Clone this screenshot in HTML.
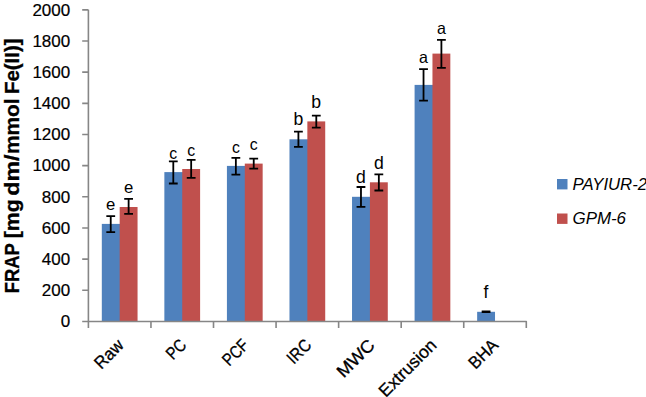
<!DOCTYPE html><html><head><meta charset="utf-8"><style>html,body{margin:0;padding:0;background:#fff;}svg{display:block;}text{font-family:"Liberation Sans",sans-serif;fill:#000;}.xl{stroke:#000;stroke-width:0.3px;}.yl{stroke:#000;stroke-width:0.2px;}.tt{stroke:#000;stroke-width:0.3px;}</style></head><body>
<svg width="646" height="397" viewBox="0 0 646 397">
<rect width="646" height="397" fill="#fff"/>
<rect x="101.81" y="223.90" width="18.87" height="97.55" fill="#4F81BD"/>
<rect x="119.68" y="207.00" width="17.87" height="114.45" fill="#C0504D"/>
<rect x="164.36" y="172.10" width="18.87" height="149.35" fill="#4F81BD"/>
<rect x="182.24" y="169.00" width="17.87" height="152.45" fill="#C0504D"/>
<rect x="226.92" y="165.90" width="18.87" height="155.55" fill="#4F81BD"/>
<rect x="244.79" y="163.60" width="17.87" height="157.85" fill="#C0504D"/>
<rect x="289.48" y="139.30" width="18.87" height="182.15" fill="#4F81BD"/>
<rect x="307.35" y="121.40" width="17.87" height="200.05" fill="#C0504D"/>
<rect x="352.03" y="196.80" width="18.87" height="124.65" fill="#4F81BD"/>
<rect x="369.91" y="182.30" width="17.87" height="139.15" fill="#C0504D"/>
<rect x="414.59" y="84.90" width="18.87" height="236.55" fill="#4F81BD"/>
<rect x="432.46" y="53.60" width="17.87" height="267.85" fill="#C0504D"/>
<rect x="477.15" y="311.80" width="17.87" height="9.65" fill="#4F81BD"/>
<path d="M88.4 9.85V321.45H526.3V328 M82.2 321.45H88.4M82.2 290.29H88.4M82.2 259.13H88.4M82.2 227.97H88.4M82.2 196.81H88.4M82.2 165.65H88.4M82.2 134.49H88.4M82.2 103.33H88.4M82.2 72.17H88.4M82.2 41.01H88.4M82.2 9.85H88.4" fill="none" stroke="#868686" stroke-width="1.6" stroke-linejoin="round"/>
<path d="M88.40 321.45V328M150.96 321.45V328M213.51 321.45V328M276.07 321.45V328M338.63 321.45V328M401.19 321.45V328M463.74 321.45V328" fill="none" stroke="#868686" stroke-width="1.6"/>
<path d="M110.74 216.10V232.10M106.34 216.10H115.14M106.34 232.10H115.14M128.62 198.80V213.90M124.22 198.80H133.02M124.22 213.90H133.02M173.30 161.40V183.50M168.90 161.40H177.70M168.90 183.50H177.70M191.17 159.90V177.80M186.77 159.90H195.57M186.77 177.80H195.57M235.86 157.90V174.70M231.46 157.90H240.26M231.46 174.70H240.26M253.73 158.60V168.60M249.33 158.60H258.13M249.33 168.60H258.13M298.41 131.70V146.80M294.01 131.70H302.81M294.01 146.80H302.81M316.29 115.70V127.70M311.89 115.70H320.69M311.89 127.70H320.69M360.97 187.00V206.90M356.57 187.00H365.37M356.57 206.90H365.37M378.84 174.40V190.50M374.44 174.40H383.24M374.44 190.50H383.24M423.53 69.10V100.60M419.13 69.10H427.93M419.13 100.60H427.93M441.40 39.80V67.80M437.00 39.80H445.80M437.00 67.80H445.80M486.08 311.50V312.10M481.68 311.50H490.48M481.68 312.10H490.48" fill="none" stroke="#000" stroke-width="1.8"/>
<text class="yl" x="70.2" y="327.15" font-size="16.5" text-anchor="end" textLength="9.45" lengthAdjust="spacingAndGlyphs">0</text>
<text class="yl" x="70.2" y="295.99" font-size="16.5" text-anchor="end" textLength="28.35" lengthAdjust="spacingAndGlyphs">200</text>
<text class="yl" x="70.2" y="264.83" font-size="16.5" text-anchor="end" textLength="28.35" lengthAdjust="spacingAndGlyphs">400</text>
<text class="yl" x="70.2" y="233.67" font-size="16.5" text-anchor="end" textLength="28.35" lengthAdjust="spacingAndGlyphs">600</text>
<text class="yl" x="70.2" y="202.51" font-size="16.5" text-anchor="end" textLength="28.35" lengthAdjust="spacingAndGlyphs">800</text>
<text class="yl" x="70.2" y="171.35" font-size="16.5" text-anchor="end" textLength="37.80" lengthAdjust="spacingAndGlyphs">1000</text>
<text class="yl" x="70.2" y="140.19" font-size="16.5" text-anchor="end" textLength="37.80" lengthAdjust="spacingAndGlyphs">1200</text>
<text class="yl" x="70.2" y="109.03" font-size="16.5" text-anchor="end" textLength="37.80" lengthAdjust="spacingAndGlyphs">1400</text>
<text class="yl" x="70.2" y="77.87" font-size="16.5" text-anchor="end" textLength="37.80" lengthAdjust="spacingAndGlyphs">1600</text>
<text class="yl" x="70.2" y="46.71" font-size="16.5" text-anchor="end" textLength="37.80" lengthAdjust="spacingAndGlyphs">1800</text>
<text class="yl" x="70.2" y="15.55" font-size="16.5" text-anchor="end" textLength="37.80" lengthAdjust="spacingAndGlyphs">2000</text>
<text x="110.74" y="210.00" font-size="16.5" text-anchor="middle" textLength="9.30" lengthAdjust="spacingAndGlyphs">e</text>
<text x="128.62" y="192.80" font-size="16.5" text-anchor="middle" textLength="9.30" lengthAdjust="spacingAndGlyphs">e</text>
<text x="173.30" y="158.50" font-size="16.5" text-anchor="middle" textLength="7.90" lengthAdjust="spacingAndGlyphs">c</text>
<text x="191.17" y="155.50" font-size="16.5" text-anchor="middle" textLength="7.90" lengthAdjust="spacingAndGlyphs">c</text>
<text x="235.86" y="152.80" font-size="16.5" text-anchor="middle" textLength="7.90" lengthAdjust="spacingAndGlyphs">c</text>
<text x="253.73" y="150.00" font-size="16.5" text-anchor="middle" textLength="7.90" lengthAdjust="spacingAndGlyphs">c</text>
<text x="298.41" y="124.80" font-size="17.5" text-anchor="middle" textLength="9.80" lengthAdjust="spacingAndGlyphs">b</text>
<text x="316.29" y="107.50" font-size="17.5" text-anchor="middle" textLength="9.80" lengthAdjust="spacingAndGlyphs">b</text>
<text x="360.97" y="183.30" font-size="17.5" text-anchor="middle" textLength="9.80" lengthAdjust="spacingAndGlyphs">d</text>
<text x="378.84" y="168.50" font-size="17.5" text-anchor="middle" textLength="9.80" lengthAdjust="spacingAndGlyphs">d</text>
<text x="423.53" y="63.00" font-size="16.5" text-anchor="middle" textLength="8.94" lengthAdjust="spacingAndGlyphs">a</text>
<text x="441.40" y="33.80" font-size="16.5" text-anchor="middle" textLength="8.94" lengthAdjust="spacingAndGlyphs">a</text>
<text x="486.08" y="297.80" font-size="17.5" text-anchor="middle" textLength="4.89" lengthAdjust="spacingAndGlyphs">f</text>
<text class="xl" x="124.78" y="346.30" font-size="17.5" text-anchor="end" textLength="33.4" lengthAdjust="spacingAndGlyphs" transform="rotate(-45 124.78 346.30)">Raw</text>
<text class="xl" x="187.34" y="346.30" font-size="17.5" text-anchor="end" textLength="20.2" lengthAdjust="spacingAndGlyphs" transform="rotate(-45 187.34 346.30)">PC</text>
<text class="xl" x="249.89" y="346.30" font-size="17.5" text-anchor="end" textLength="29.0" lengthAdjust="spacingAndGlyphs" transform="rotate(-45 249.89 346.30)">PCF</text>
<text class="xl" x="312.45" y="346.30" font-size="17.5" text-anchor="end" textLength="26.3" lengthAdjust="spacingAndGlyphs" transform="rotate(-45 312.45 346.30)">IRC</text>
<text class="xl" x="375.91" y="346.30" font-size="17.5" text-anchor="end" textLength="45.6" lengthAdjust="spacingAndGlyphs" transform="rotate(-45 375.91 346.30)">MWC</text>
<text class="xl" x="437.56" y="346.30" font-size="17.5" text-anchor="end" textLength="73.1" lengthAdjust="spacingAndGlyphs" transform="rotate(-45 437.56 346.30)">Extrusion</text>
<text class="xl" x="499.32" y="346.30" font-size="17.5" text-anchor="end" textLength="33.6" lengthAdjust="spacingAndGlyphs" transform="rotate(-45 499.32 346.30)">BHA</text>
<g transform="rotate(-90)" font-size="19.5" font-weight="bold" class="tt"><text x="-293.33" y="19" textLength="50.16" lengthAdjust="spacingAndGlyphs">FRAP</text><text x="-238.19" y="19" textLength="38.80" lengthAdjust="spacingAndGlyphs">[mg</text><text x="-195.65" y="19" textLength="41.18" lengthAdjust="spacingAndGlyphs">dm/</text><text x="-154.07" y="19" textLength="55.55" lengthAdjust="spacingAndGlyphs">mmol</text><text x="-94.07" y="19" textLength="55.61" lengthAdjust="spacingAndGlyphs">Fe(II)]</text></g>
<rect x="557" y="179" width="10.5" height="10.4" fill="#4F81BD"/>
<rect x="557" y="213.5" width="10.5" height="10.4" fill="#C0504D"/>
<text x="572.5" y="189.7" font-size="16" font-style="italic" textLength="74.5" lengthAdjust="spacingAndGlyphs">PAYIUR-2</text>
<text x="572.5" y="223.7" font-size="16" font-style="italic" textLength="53.5" lengthAdjust="spacingAndGlyphs">GPM-6</text>
</svg></body></html>
